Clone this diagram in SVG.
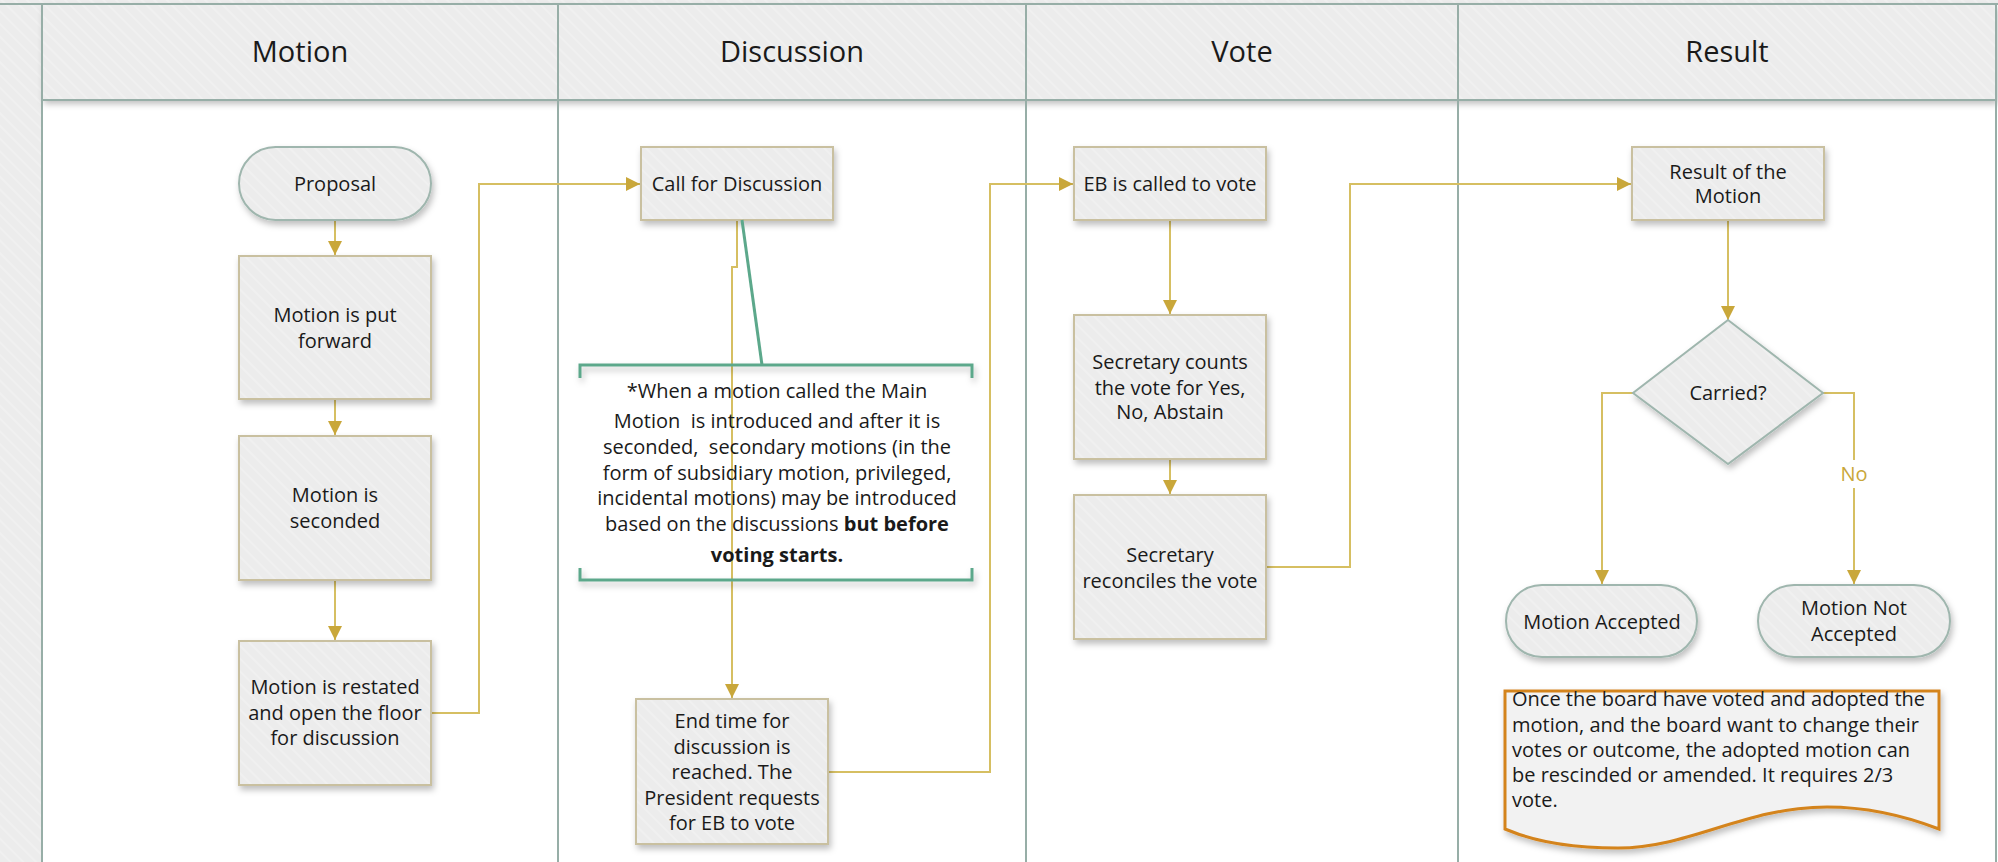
<svg xmlns="http://www.w3.org/2000/svg" width="1998" height="862" viewBox="0 0 1998 862">
<defs>
<pattern id="hatch" patternUnits="userSpaceOnUse" width="9" height="9" patternTransform="rotate(-45)">
<rect width="9" height="9" fill="#ececec"/>
<line x1="1" y1="0" x2="1" y2="9" stroke="#f4f4f4" stroke-width="1.2"/>
</pattern>
<filter id="sh" x="-10%" y="-10%" width="130%" height="140%">
<feDropShadow dx="2" dy="4" stdDeviation="3" flood-color="#000" flood-opacity="0.25"/>
</filter>
<linearGradient id="fade" x1="0" y1="0" x2="1" y2="0">
<stop offset="0" stop-color="#c9a73a"/>
<stop offset="1" stop-color="#c9a73a" stop-opacity="0"/>
</linearGradient>
<marker id="ah" viewBox="0 0 10 10" refX="10" refY="5" markerWidth="14" markerHeight="14" markerUnits="userSpaceOnUse" orient="auto">
<path d="M0,0 L10,5 L0,10 Z" fill="#c9a73a"/>
</marker>
<style>
text{font-family:"Open Sans","Noto Sans",sans-serif;fill:#1a1a1a;white-space:pre;}
.hd{font-size:29px;text-anchor:middle;}
.t{font-size:20px;text-anchor:middle;}
.n{font-size:20px;text-anchor:start;}
.box{fill:url(#hatch);stroke:#c9c0a0;stroke-width:2;filter:url(#sh);}
.term{fill:url(#hatch);stroke:#9fb6ae;stroke-width:2;filter:url(#sh);}
.lane{stroke:#97aea7;stroke-width:2;fill:none;}
.c{fill:none;stroke:#d6bf62;stroke-width:2;}
.ca{fill:none;stroke:#d6bf62;stroke-width:2;marker-end:url(#ah);}
.br{fill:none;stroke:#5ca88b;stroke-width:3;}
</style>
</defs>

<rect x="0" y="0" width="1998" height="862" fill="#ffffff"/>
<rect x="0" y="0" width="42" height="862" fill="url(#hatch)"/>
<rect x="0" y="0" width="1998" height="4" fill="url(#hatch)"/>
<g id="lanes">
<rect x="42" y="4" width="1954" height="96" fill="url(#hatch)" filter="url(#sh)"/>
<line class="lane" x1="0" y1="4" x2="1998" y2="4"/>
<line class="lane" x1="42" y1="100" x2="1996" y2="100"/>
<line class="lane" x1="42" y1="4" x2="42" y2="862"/>
<line class="lane" x1="558" y1="4" x2="558" y2="862"/>
<line class="lane" x1="1026" y1="4" x2="1026" y2="862"/>
<line class="lane" x1="1458" y1="4" x2="1458" y2="862"/>
<line class="lane" x1="1996" y1="4" x2="1996" y2="862"/>
<text class="hd" x="300" y="62">Motion</text>
<text class="hd" x="792" y="62">Discussion</text>
<text class="hd" x="1242" y="62">Vote</text>
<text class="hd" x="1727" y="62">Result</text>
</g>
<line x1="7" y1="860" x2="480" y2="860" stroke="url(#fade)" stroke-width="3"/>

<g id="connectors">
<line class="ca" x1="335" y1="220" x2="335" y2="255"/>
<line class="ca" x1="335" y1="399" x2="335" y2="435"/>
<line class="ca" x1="335" y1="580" x2="335" y2="640"/>
<polyline class="ca" points="431,713 479,713 479,184 640,184"/>
<polyline class="ca" points="737,220 737,267 732,267 732,698"/>
<polyline class="ca" points="828,772 990,772 990,184 1073,184"/>
<line class="ca" x1="1170" y1="220" x2="1170" y2="314"/>
<line class="ca" x1="1170" y1="459" x2="1170" y2="494"/>
<polyline class="ca" points="1266,567 1350,567 1350,184 1631,184"/>
<line class="ca" x1="1728" y1="220" x2="1728" y2="320"/>
<polyline class="ca" points="1633,393 1602,393 1602,584"/>
<polyline class="c" points="1823,393 1854,393 1854,460"/>
<line class="ca" x1="1854" y1="488" x2="1854" y2="584"/>
<text x="1854" y="481" style="font-size:20px;text-anchor:middle;fill:#c9a73a">No</text>
</g>

<g id="proposal">
<rect class="term" x="239" y="147" width="192" height="73" rx="36.5"/>
<text class="t" x="335" y="191">Proposal</text>
</g>
<g id="put-forward">
<rect class="box" x="239" y="256" width="192" height="143"/>
<text class="t" x="335" y="322">Motion is put</text>
<text class="t" x="335" y="348">forward</text>
</g>
<g id="seconded">
<rect class="box" x="239" y="436" width="192" height="144"/>
<text class="t" x="335" y="502">Motion is</text>
<text class="t" x="335" y="528">seconded</text>
</g>
<g id="restated">
<rect class="box" x="239" y="641" width="192" height="144"/>
<text class="t" x="335" y="694">Motion is restated</text>
<text class="t" x="335" y="720">and open the floor</text>
<text class="t" x="335" y="745">for discussion</text>
</g>

<g id="call-discussion">
<rect class="box" x="641" y="147" width="192" height="73"/>
<text class="t" x="737" y="191">Call for Discussion</text>
</g>
<g id="callout">
<line class="br" x1="742" y1="220" x2="762" y2="365"/>
<g filter="url(#sh)">
<polyline class="br" points="580,378 580,365 972,365 972,378"/>
<polyline class="br" points="580,568 580,580 972,580 972,568"/>
</g>
<text class="t" x="777" y="398">*When a motion called the Main</text>
<text class="t" x="777" y="428">Motion  is introduced and after it is</text>
<text class="t" x="777" y="454">seconded,  secondary motions (in the</text>
<text class="t" x="777" y="480">form of subsidiary motion, privileged,</text>
<text class="t" x="777" y="505">incidental motions) may be introduced</text>
<text class="t" x="777" y="531">based on the discussions <tspan font-weight="bold">but before</tspan></text>
<text class="t" x="777" y="562" font-weight="bold">voting starts.</text>
</g>
<g id="end-time">
<rect class="box" x="636" y="699" width="192" height="145"/>
<text class="t" x="732" y="728">End time for</text>
<text class="t" x="732" y="754">discussion is</text>
<text class="t" x="732" y="779">reached. The</text>
<text class="t" x="732" y="805">President requests</text>
<text class="t" x="732" y="830">for EB to vote</text>
</g>

<g id="eb-called">
<rect class="box" x="1074" y="147" width="192" height="73"/>
<text class="t" x="1170" y="191">EB is called to vote</text>
</g>
<g id="counts">
<rect class="box" x="1074" y="315" width="192" height="144"/>
<text class="t" x="1170" y="369">Secretary counts</text>
<text class="t" x="1170" y="395">the vote for Yes,</text>
<text class="t" x="1170" y="419">No, Abstain</text>
</g>
<g id="reconciles">
<rect class="box" x="1074" y="495" width="192" height="144"/>
<text class="t" x="1170" y="562">Secretary</text>
<text class="t" x="1170" y="588">reconciles the vote</text>
</g>

<g id="result-motion">
<rect class="box" x="1632" y="147" width="192" height="73"/>
<text class="t" x="1728" y="179">Result of the</text>
<text class="t" x="1728" y="203">Motion</text>
</g>
<g id="carried">
<polygon class="term" points="1728,320 1823,393 1728,464 1633,393"/>
<text class="t" x="1728" y="400">Carried?</text>
</g>
<g id="accepted">
<rect class="term" x="1506" y="585" width="191" height="72" rx="36"/>
<text class="t" x="1602" y="629">Motion Accepted</text>
</g>
<g id="not-accepted">
<rect class="term" x="1758" y="585" width="192" height="72" rx="36"/>
<text class="t" x="1854" y="615">Motion Not</text>
<text class="t" x="1854" y="641">Accepted</text>
</g>
<g id="note">
<path d="M1505,691 L1939,691 L1939,829 C1900,814 1865,807 1827,807 C1745,807 1690,848 1618,848 C1570,848 1535,842 1505,829 Z" fill="#f2f2f2" stroke="#d4841f" stroke-width="3" filter="url(#sh)"/>
<text class="n" x="1512" y="706">Once the board have voted and adopted the</text>
<text class="n" x="1512" y="732">motion, and the board want to change their</text>
<text class="n" x="1512" y="757">votes or outcome, the adopted motion can</text>
<text class="n" x="1512" y="782">be rescinded or amended. It requires 2/3</text>
<text class="n" x="1512" y="807">vote.</text>
</g>
</svg>
